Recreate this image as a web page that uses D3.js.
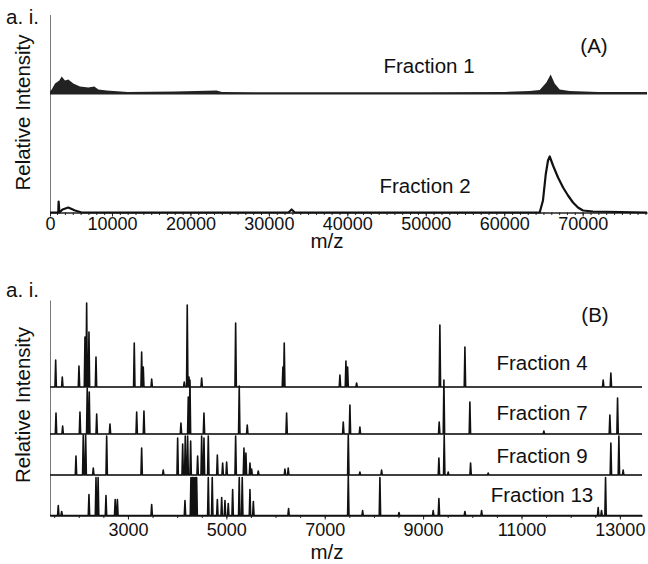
<!DOCTYPE html>
<html>
<head>
<meta charset="utf-8">
<script src="https://cdnjs.cloudflare.com/ajax/libs/d3/7.8.5/d3.min.js"></script>
<style>
  body { margin: 0; background: #fff; }
  text { font-family: "Liberation Sans", Arial, sans-serif; fill: #111; }
  .tick text { font-size: 18px; }
  .tick line { stroke: #222; }
  path.domain { stroke: #222; }
  .yaxis path.domain { stroke: #777; }
  .lbl { font-size: 20.5px; }
</style>
</head>
<body>
<svg width="648" height="564"></svg>
<script>
// ---- panel A (whole m/z range), values as [m/z, a.i.]
var fractionsA = ["Fraction 1", "Fraction 2"];
var offsetsA = [119, 0];
var ticksA = [0, 10000, 20000, 30000, 40000, 50000, 60000, 70000];

var frac1 = [[2100,2],[2318,4],[2740,10],[3290,13],[3590,17],[4010,13],[4430,14],[5070,10],
  [5920,7],[6980,6],[7750,7],[8260,4],[9320,3],[12000,1.5],[18000,2],[23340,3],[24000,1.5],
  [30000,1.2],[40000,1.2],[50000,1.2],[60000,1.5],[63250,2.5],[64520,3.5],[65370,11],
  [65920,19],[66430,10],[67070,4],[68340,2.5],[72000,1.5],[78200,1.5]];

var frac2 = [[2100,0],[3150,0],[3200,11],[3300,0],[3700,3],[4430,5],[5290,2],[6140,0],
  [32500,0],[32900,3],[33300,0],[64520,0],[64940,12],[65290,38],[65580,52],[65800,56],
  [66220,47],[66860,35],[67500,25],[68130,17],[68770,10],[69400,5],[70040,2],[71310,1],[78200,0]];

// ---- panel B (low m/z), peak lists [m/z, a.i.]
var fractionsB = ["Fraction 4", "Fraction 7", "Fraction 9", "Fraction 13"];
var offsetsB = [128.5, 81.5, 40.5, 0];
var ticksB = [3000, 5000, 7000, 9000, 11000, 13000];

var frac4 = [[1530,27],[1665,10],[2004,21],[2126,50],[2160,84],[2207,55],[2350,30],[3128,44],
  [3278,35],[3311,20],[3482,8],[4144,5],[4205,82],[4240,10],[4498,9],[5189,64],[6150,20],
  [6177,44],[7309,12],[7431,26],[7465,20],[7648,4],[9341,62],[9850,40],[12661,7],[12817,14]];

var frac7 = [[1537,21],[1672,8],[2024,22],[2172,46],[2213,42],[2364,20],[2634,10],[3177,22],
  [3325,23],[4077,11],[4226,37],[4260,54],[4545,21],[5262,48],[5425,9],[6225,21],[7377,12],
  [7512,29],[7715,7],[9327,12],[9423,54],[9951,32],[11455,3],[12797,19],[12953,36]];

var frac9 = [[1943,19],[2091,40],[2140,40],[2295,7],[2567,39],[3278,27],[3717,5],[4010,37],
  [4112,31],[4165,39],[4213,39],[4274,34],[4416,19],[4498,39],[4545,37],[4633,39],[4817,20],
  [4925,12],[5006,13],[5189,39],[5358,27],[5398,22],[5480,12],[5514,6],[5649,4],[6191,6],
  [6258,7],[7479,40],[7715,3],[8156,5],[9321,17],[9429,40],[9510,3],[9965,12],[10323,2],
  [12817,32],[12980,39],[13067,5]];

var frac13 = [[1583,10],[1652,4],[2207,21],[2350,38],[2393,38],[2553,20],[2740,16],[2785,16],
  [3482,11],[4159,15],[4280,38],[4310,38],[4340,38],[4370,38],[4396,38],[4633,38],[4713,38],
  [4817,16],[4905,18],[4972,15],[5039,12],[5128,26],[5262,38],[5323,38],[5480,26],[5549,14],
  [6265,7],[7479,40],[7770,5],[8122,38],[8510,3],[9205,5],[9321,17],[9850,4],[10189,5],
  [12559,8],[12627,5],[12709,38]];

var svg = d3.select("svg");

// ================= panel A =================
var xA = d3.scaleLinear().domain([2100, 78200]).range([50, 647]).clamp(true);
var yA = d3.scaleLinear().domain([0, 198]).range([212.5, 14.5]);

svg.append("g").attr("class", "yaxis").attr("transform", "translate(50,0)")
  .call(d3.axisLeft(yA).tickValues([]).tickSizeOuter(0));

svg.append("g").attr("transform", "translate(0,212.5)")
  .call(d3.axisBottom(xA).tickValues(d3.range(3000, 78001, 1000)).tickSize(2.5).tickFormat("").tickSizeOuter(0));
svg.append("g").attr("transform", "translate(0,212.5)")
  .call(d3.axisBottom(xA).tickValues(ticksA).tickSize(4).tickPadding(1)
    .tickFormat(d3.format("d")).tickSizeOuter(0));

// fraction 1: dense noisy trace drawn as a band
var bandA = d3.area()
  .x(d => xA(d[0]))
  .y0(yA(offsetsA[0] - 1))
  .y1(d => yA(offsetsA[0] + d[1]));
svg.append("path").attr("d", bandA(frac1)).attr("fill", "#222");

var lineA = d3.line().x(d => xA(d[0])).y(d => yA(offsetsA[1] + d[1]));
svg.append("path").attr("d", lineA(frac2))
  .attr("fill", "none").attr("stroke", "#111").attr("stroke-width", 2.2).attr("stroke-linejoin", "round");

svg.append("text").attr("class", "lbl").attr("x", 429).attr("y", 73).attr("text-anchor", "middle").text(fractionsA[0]);
svg.append("text").attr("class", "lbl").attr("x", 425).attr("y", 193).attr("text-anchor", "middle").text(fractionsA[1]);
svg.append("text").attr("class", "lbl").attr("x", 594).attr("y", 53).attr("text-anchor", "middle").text("(A)");
svg.append("text").attr("class", "lbl").attr("x", 327).attr("y", 248).attr("text-anchor", "middle").text("m/z");
svg.append("text").attr("class", "lbl").attr("x", 6).attr("y", 24).text("a. i.");
svg.append("text").attr("class", "lbl").attr("text-anchor", "middle")
  .attr("transform", "translate(30,112.5) rotate(-90)").text("Relative Intensity");

// ================= panel B =================
var xB = d3.scaleLinear().domain([1415, 13450]).range([50, 642]);
var yB = d3.scaleLinear().domain([0, 215.5]).range([515.5, 300]);

svg.append("g").attr("class", "yaxis").attr("transform", "translate(50,0)")
  .call(d3.axisLeft(yB).tickValues([]).tickSizeOuter(0));

svg.append("g").attr("transform", "translate(0,515.5)")
  .call(d3.axisBottom(xB).tickValues(d3.range(1500, 13451, 500)).tickSize(2.5).tickFormat("").tickSizeOuter(0));
svg.append("g").attr("transform", "translate(0,515.5)")
  .call(d3.axisBottom(xB).tickValues(ticksB).tickSize(4).tickPadding(4)
    .tickFormat(d3.format("d")).tickSizeOuter(0));

function spikes(peaks) {
  var dom = xB.domain();
  var pts = [[dom[0], 0]];
  peaks.slice().sort((a, b) => a[0] - b[0]).forEach(p => {
    pts.push([p[0] - 14, 0], [p[0], p[1]], [p[0] + 14, 0]);
  });
  pts.push([dom[1], 0]);
  return pts;
}

var tracesB = [frac4, frac7, frac9, frac13];
tracesB.forEach((peaks, i) => {
  var off = offsetsB[i];
  svg.append("line")
    .attr("x1", xB.range()[0]).attr("x2", xB.range()[1])
    .attr("y1", yB(off)).attr("y2", yB(off))
    .attr("stroke", "#999").attr("stroke-width", 1);
  var line = d3.line().x(d => xB(d[0])).y(d => yB(off + d[1]));
  svg.append("path").attr("d", line(spikes(peaks)))
    .attr("fill", "none").attr("stroke", "#111").attr("stroke-width", 1.6).attr("stroke-linejoin", "round");
});

var labelYB = [370, 420, 463, 502];
fractionsB.forEach((f, i) => {
  svg.append("text").attr("class", "lbl").attr("x", 542).attr("y", labelYB[i])
    .attr("text-anchor", "middle").text(f);
});
svg.append("text").attr("class", "lbl").attr("x", 595).attr("y", 322).attr("text-anchor", "middle").text("(B)");
svg.append("text").attr("class", "lbl").attr("x", 327).attr("y", 559).attr("text-anchor", "middle").text("m/z");
svg.append("text").attr("class", "lbl").attr("x", 6).attr("y", 297).text("a. i.");
svg.append("text").attr("class", "lbl").attr("text-anchor", "middle")
  .attr("transform", "translate(30,405) rotate(-90)").text("Relative Intensity");
</script>
</body>
</html>
